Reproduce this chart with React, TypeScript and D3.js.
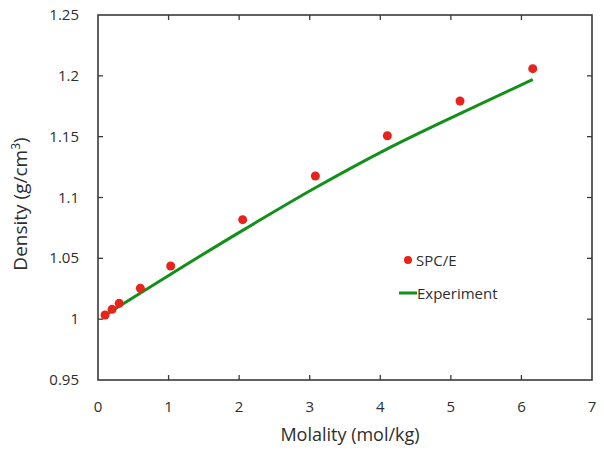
import React from "react";
import * as d3 from "d3";

const spcX = [0.1, 0.2, 0.3, 0.6, 1.03, 2.05, 3.08, 4.1, 5.13, 6.16];
const spcY = [1.0034, 1.0081, 1.013, 1.0254, 1.0437, 1.0818, 1.1177, 1.1508, 1.1793, 1.2059];
const expX = [0.05, 1.03, 2.05, 3.08, 4.1, 5.13, 6.16];
const expY = [1.0015, 1.037, 1.073, 1.108, 1.140, 1.169, 1.197];
const xTicks = [0, 1, 2, 3, 4, 5, 6, 7];
const yTicks = [0.95, 1, 1.05, 1.1, 1.15, 1.2, 1.25];
const yTickLabels = ["0.95", "1", "1.05", "1.1", "1.15", "1.2", "1.25"];

const W = 604, H = 461;
const L = 98, R = 592, T = 15, B = 380;
const FONT = "'Open Sans', 'Liberation Sans', sans-serif";

export default function App() {
  const x = d3.scaleLinear().domain([0, 7]).range([L, R]);
  const y = d3.scaleLinear().domain([0.95, 1.25]).range([B, T]);
  const line = d3
    .line<number>()
    .x((_, i) => x(expX[i]))
    .y((d) => y(d))
    .curve(d3.curveMonotoneX);
  const axisColor = "#3a3a3a";
  const textColor = "#2e2e2e";
  const tl = 5;
  return (
    <svg width={W} height={H} style={{ position: "absolute", left: 0, top: 0, background: "#fff" }}>
      <rect x={L} y={T} width={R - L} height={B - T} fill="none" stroke={axisColor} strokeWidth={1.6} />
      {xTicks.slice(1, -1).map((t) => (
        <g key={"xt" + t}>
          <line x1={x(t)} x2={x(t)} y1={B} y2={B - tl} stroke={axisColor} strokeWidth={1.3} />
          <line x1={x(t)} x2={x(t)} y1={T} y2={T + tl} stroke={axisColor} strokeWidth={1.3} />
        </g>
      ))}
      {yTicks.slice(1, -1).map((t) => (
        <g key={"yt" + t}>
          <line x1={L} x2={L + tl} y1={y(t)} y2={y(t)} stroke={axisColor} strokeWidth={1.3} />
          <line x1={R} x2={R - tl} y1={y(t)} y2={y(t)} stroke={axisColor} strokeWidth={1.3} />
        </g>
      ))}
      {xTicks.map((t) => (
        <text key={"xl" + t} x={x(t)} y={412} textAnchor="middle" fontFamily={FONT} fontSize={15} fill={textColor}>
          {t}
        </text>
      ))}
      {yTicks.map((t, i) => (
        <text key={"yl" + t} x={79} y={y(t) + 5} textAnchor="end" fontFamily={FONT} fontSize={15} fill={textColor}>
          {yTickLabels[i]}
        </text>
      ))}
      <path d={line(expY) || ""} fill="none" stroke="#12901a" strokeWidth={3} />
      {spcY.map((v, i) => (
        <circle key={"p" + i} cx={x(spcX[i])} cy={y(v)} r={4.5} fill="#e8231b" />
      ))}
      <text x={350} y={441} textAnchor="middle" fontFamily={FONT} fontSize={18} fill={textColor}>
        Molality (mol/kg)
      </text>
      <text
        transform={`translate(27,204) rotate(-90)`}
        textAnchor="middle"
        fontFamily={FONT}
        fontSize={19}
        fill={textColor}
      >
        Density (g/cm<tspan dy={-7} fontSize={12}>3</tspan>
        <tspan dy={7}>)</tspan>
      </text>
      <circle cx={408} cy={260} r={4} fill="#e8231b" />
      <text x={416} y={266} fontFamily={FONT} fontSize={15} fill={textColor}>
        SPC/E
      </text>
      <line x1={399} x2={417} y1={293} y2={293} stroke="#12901a" strokeWidth={3} />
      <text x={417} y={299} fontFamily={FONT} fontSize={15} fill={textColor}>
        Experiment
      </text>
    </svg>
  );
}
